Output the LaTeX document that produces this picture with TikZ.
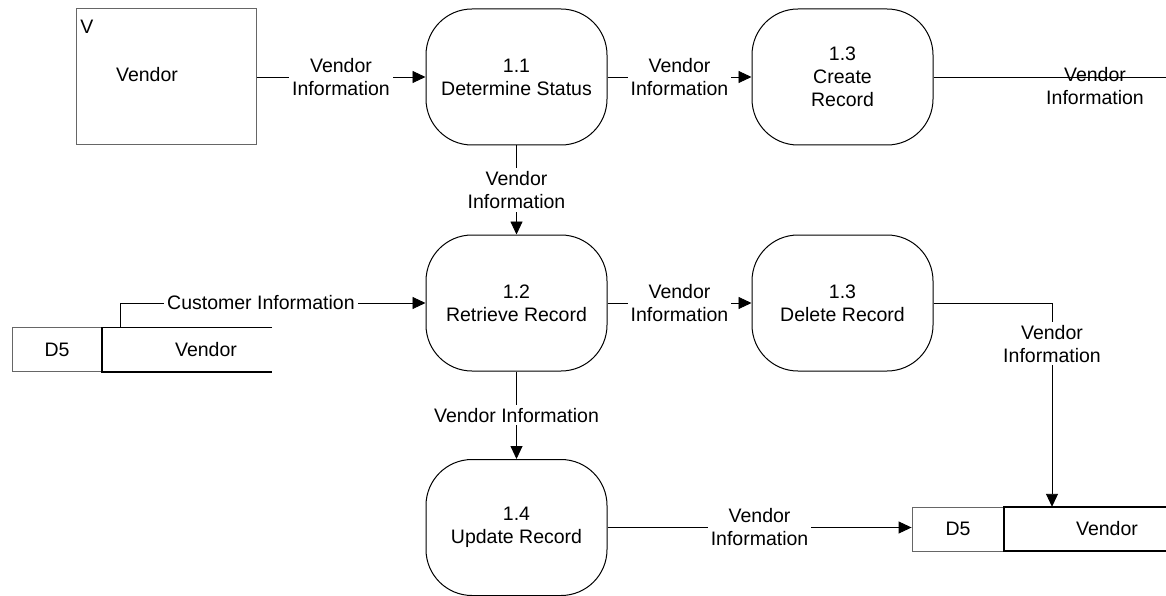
\documentclass[tikz,border=0pt]{standalone}
\usepackage{fontspec}
\setmainfont{Liberation Sans}
\usetikzlibrary{arrows.meta}
\begin{document}
\begin{tikzpicture}[x=1pt,y=-1pt,
  every node/.style={font=\fontsize{19.5}{23}\selectfont, inner sep=0pt},
  proc/.style={draw, line width=1pt, rounded corners=46pt,
    minimum width=181pt, minimum height=136pt, align=center},
  entity/.style={draw=black!60, line width=1pt, minimum width=180pt, minimum height=136pt},
  storeid/.style={draw=black!60, line width=0.9pt, minimum height=44pt},
  storepart/.style={minimum height=44pt},
  flow/.style={-{Triangle[length=13pt,width=12pt]}, line width=0.9pt},
  lbl/.style={fill=white, align=center, inner sep=3pt},
  storeline/.style={line width=1.6pt}]

\useasboundingbox (0,0) rectangle (1166,596);

% external entity
\node[entity] (ext) at (166,77) {};
\node (extid) at (87,27) {V};
\node (extname) at (147,75) {Vendor};

% processes
\node[proc] (p11) at (516.5,77) {1.1\\Determine Status};
\node[proc] (p13c) at (842.5,77) {1.3\\Create\\Record};
\node[proc] (p12) at (516.5,303) {1.2\\Retrieve Record};
\node[proc] (p13d) at (842.5,303) {1.3\\Delete Record};
\node[proc] (p14) at (516.5,527.5) {1.4\\Update Record};

% data store D5 (left)
\node[storeid, minimum width=90pt] (s1id) at (57,349.5) {D5};
\node[storepart, minimum width=170pt] (s1part) at (187,349.5) {};
\node (s1name) at (206,349.5) {Vendor};
\draw[storeline] (s1part.north east) -- (s1part.north west)
  -- (s1part.south west) -- (s1part.south east);

% data store D5 (right)
\node[storeid, minimum width=92pt] (s2id) at (958,529) {D5};
\node[storepart, minimum width=162pt] (s2part) at (1085,529) {};
\node (s2name) at (1107,529) {Vendor};
\draw[storeline] (s2part.north east) -- (s2part.north west)
  -- (s2part.south west) -- (s2part.south east);

% data flows
\draw[flow] (ext.east) -- node[lbl] {Vendor\\Information} (p11.west);
\draw[flow] (p11) -- node[lbl] {Vendor\\Information} (p13c);
\coordinate (outR) at (1166,77);
\draw[line width=0.9pt] (p13c.east) -- (outR);
\node[align=center] (outlbl) at (1095,86.5) {Vendor\\Information};
\draw[flow] (p11) -- node[lbl] {Vendor\\Information} (p12);
\draw[flow] (p12) -- node[lbl] {Vendor\\Information} (p13d);
\draw[flow] (p12) -- node[lbl] {Vendor Information} (p14);
\draw[flow] ([xshift=19pt]s1part.north west) |- node[lbl, pos=0.73] {Customer Information} (p12.west);
\draw[flow] (p13d.east) -| node[lbl, pos=0.6] {Vendor\\Information} ([xshift=-33pt]s2part.north);
\draw[flow] (p14.east) -- node[lbl] {Vendor\\Information} (p14.east -| s2id.west);

\end{tikzpicture}
\end{document}
